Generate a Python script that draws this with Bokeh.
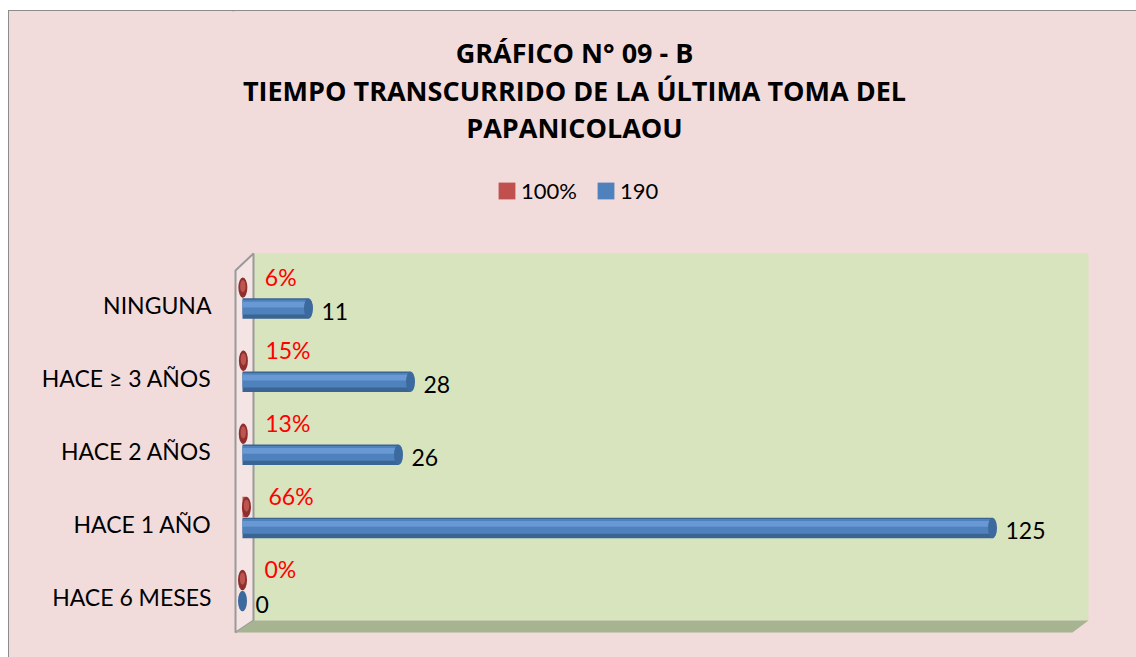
from bokeh.plotting import figure
from bokeh.layouts import column
from bokeh.models import Range1d, FixedTicker, Legend, LegendItem, ColumnDataSource
from bokeh.core.properties import value
from bokeh.embed import file_html
from bokeh.resources import INLINE

# ---------------- data ----------------
categories = ["HACE 6 MESES", "HACE 1 AÑO", "HACE 2 AÑOS", "HACE ≥ 3 AÑOS", "NINGUNA"]
counts = [0, 125, 26, 28, 11]            # series "190"
shares = [0.00, 0.66, 0.13, 0.15, 0.06]  # series "100%"
series_names = ["100%", "190"]
title_lines = ["GRÁFICO N° 09 - B",
               "TIEMPO TRANSCURRIDO DE LA ÚLTIMA TOMA DEL",
               "PAPANICOLAOU"]

# ---------------- style ----------------
FONT = "Lato"
TITLE_FONT = "Open Sans"
BG = "#F2DCDB"
WALL = "#D7E4BD"
FLOOR = "#A7B492"
BLUE_DARK, BLUE, BLUE_LIGHT, BLUE_CAP = "#3A6493", "#4F81BD", "#6F9FDA", "#3C6A9F"
RED_DARK, RED, RED_LIGHT = "#8E2F2D", "#C0504D", "#D06460"

W = 1127               # width of both figures (page x 9 .. 1136)
TOP = 11               # page y where the figures start
HEAD_H = 210 - TOP     # heading figure: page y 11 .. 210
MAIN_H = 657 - 210     # main figure: page y 210 .. 657
FR_L, FR_R = 232, 1092  # page x of the plotting frame (shared by both figures)

# ---------------- heading figure (title + legend) ----------------
head = figure(width=W, height=HEAD_H, output_backend="svg", toolbar_location=None,
              x_range=Range1d(FR_L, FR_R), y_range=Range1d(TOP + HEAD_H, TOP),
              min_border_left=0, min_border_right=0,
              min_border_top=0, min_border_bottom=0,
              background_fill_alpha=0, border_fill_color=BG, outline_line_color=None)
head.axis.visible = False
head.grid.visible = False

title_src = ColumnDataSource(dict(text=title_lines, y=[52, 89.5, 127],
                                  x=[574] * len(title_lines)))
head.text(x="x", y="y", text="text", source=title_src, text_font=value(TITLE_FONT),
          text_font_size="27px", text_font_style="bold", text_color="#000000",
          text_align="center", text_baseline="middle")

# legend swatches (one point each, kept outside the visible range)
leg_src = ColumnDataSource(dict(y=[-1000], right=[FR_L + 1]))
leg_red = head.hbar(y="y", left=FR_L, right="right", height=1, source=leg_src,
                    fill_color=RED, line_color=None)
leg_blue = head.hbar(y="y", left=FR_L, right="right", height=1, source=leg_src,
                     fill_color="#4F81BD", line_color=None)
legend = Legend(items=[LegendItem(label=series_names[0], renderers=[leg_red]),
                       LegendItem(label=series_names[1], renderers=[leg_blue])],
                location=(496 - FR_L, 6), orientation="horizontal",
                background_fill_alpha=0, border_line_color=None,
                padding=0, margin=0, spacing=18, label_standoff=4,
                glyph_width=21, glyph_height=21,
                label_text_font=FONT, label_text_font_size="22px",
                label_text_color="#000000")
head.add_layout(legend, "center")

# ---------------- main chart ----------------
n = len(categories)
idx = list(range(n))
blue_y = [i - 0.055 for i in idx]
red_y = [i + 0.232 for i in idx]
BAR_H = 0.28

src = ColumnDataSource(dict(
    cat=categories, idx=idx, count=counts, share=shares,
    by=blue_y, ry=red_y,
    by_body=[y + 0.02 for y in blue_y], by_hl=[y + 0.055 for y in blue_y],
    ry_body=[y + 0.02 for y in red_y],
    clabel=[str(c) for c in counts],
    slabel=[f"{round(s * 100)}%" for s in shares],
))

p = figure(width=W, height=MAIN_H, output_backend="svg", toolbar_location=None,
           x_range=Range1d(-10 / 6, 850 / 6), y_range=Range1d(-0.567, 4.767),
           min_border_left=FR_L - 9, min_border_right=W - (FR_L - 9) - (FR_R - FR_L),
           min_border_top=248 - 210, min_border_bottom=MAIN_H - (248 - 210) - 390,
           background_fill_alpha=0, border_fill_color=BG, outline_line_color=None)

p.xaxis.visible = False
p.grid.visible = False
yax = p.yaxis[0]
yax.ticker = FixedTicker(ticks=idx)
yax.major_label_overrides = {i: c for i, c in zip(idx, categories)}
yax.axis_line_color = None
yax.major_tick_line_color = None
yax.minor_tick_line_color = None
yax.major_tick_out = 0
yax.major_label_standoff = 21
yax.major_label_text_font = FONT
yax.major_label_text_font_size = "23px"
yax.major_label_text_color = "#000000"

# 3D walls (decoration)
p.quad(left=1.833, right=141.0, bottom=-0.321, top=4.699, fill_color=WALL, line_color=None)
p.patch(x=[-1.167, 1.833, 1.833, -1.167], y=[4.467, 4.699, -0.321, -0.485],
        fill_color="#F4E4E4", line_color="#9A9A9A", line_width=2)
p.patch(x=[1.833, 141.0, 138.33, -1.167], y=[-0.321, -0.321, -0.485, -0.485],
        fill_color=FLOOR, line_color=None)

# series "100%" (red)
p.hbar(y="ry", left=0, right="share", height=BAR_H, source=src,
       fill_color=RED, line_color=None)
p.ellipse(x="share", y="ry", width=1.5, height=BAR_H, source=src,
          fill_color=RED_DARK, line_color=None)
p.ellipse(x="share", y="ry_body", width=0.9, height=BAR_H * 0.6, source=src,
          fill_color=RED_LIGHT, line_color=None, fill_alpha=0.7)

# series "190" (blue)
p.hbar(y="by", left=0, right="count", height=BAR_H, source=src,
       fill_color=BLUE_DARK, line_color=None)
p.hbar(y="by_body", left=0, right="count", height=BAR_H * 0.72, source=src,
       fill_color=BLUE, line_color=None)
p.hbar(y="by_hl", left=0, right="count", height=BAR_H * 0.28, source=src,
       fill_color=BLUE_LIGHT, line_color=None, fill_alpha=0.8)
p.ellipse(x="count", y="by", width=1.5, height=BAR_H, source=src,
          fill_color=BLUE_CAP, line_color=None)

# data labels
p.text(x="share", y="ry", text="slabel", source=src, x_offset=22, y_offset=-11,
       text_font=value(FONT), text_font_size="23px", text_color="#FF0000",
       text_align="left", text_baseline="middle")
p.text(x="count", y="by", text="clabel", source=src, x_offset=13, y_offset=3,
       text_font=value(FONT), text_font_size="23px", text_color="#000000",
       text_align="left", text_baseline="middle")

layout = column(head, p, spacing=0,
                styles={"margin-left": "8px", "margin-top": "10px",
                        "border-left": "1px solid #8C8C8C",
                        "border-top": "1px solid #8C8C8C",
                        "background-color": BG})

open("out.html", "w").write(file_html(layout, INLINE))
